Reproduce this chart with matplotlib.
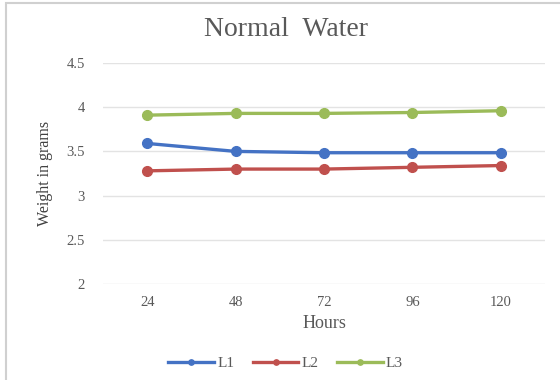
import matplotlib
matplotlib.use("Agg")
import matplotlib.pyplot as plt
from matplotlib.patches import Rectangle

hours = ["24", "48", "72", "96", "120"]
l1 = [3.59, 3.50, 3.485, 3.485, 3.485]
l2 = [3.28, 3.30, 3.30, 3.32, 3.34]
l3 = [3.91, 3.93, 3.93, 3.94, 3.96]
series_names = ["L1", "L2", "L3"]
yticks = [2, 2.5, 3, 3.5, 4, 4.5]
ytick_labels = ["2", "2.5", "3", "3.5", "4", "4.5"]

colors = ["#4472C4", "#C0504D", "#9BBB59"]
plt.rcParams['font.family'] = ['Liberation Serif', 'DejaVu Serif']

fig = plt.figure(figsize=(5.6, 3.8), dpi=100)
fig.patches.append(Rectangle((6/560, -0.1), 1.2, (1 - 3/380) + 0.1, transform=fig.transFigure,
                             fill=False, edgecolor="#D0D0D0", linewidth=1.5))
ax = fig.add_axes([103/560, 1 - 284/380, 442/560, (284 - 63)/380])

x = list(range(len(hours)))
for vals, name, c in zip([l1, l2, l3], series_names, colors):
    ax.plot(x, vals, color=c, linewidth=2.4, marker="o", markersize=7, label=name)

ax.set_xlim(-0.5, len(hours) - 0.5)
ax.set_ylim(2, 4.5)
ax.set_xticks(x)
ax.set_xticklabels(hours)
ax.set_yticks(yticks)
ax.set_yticklabels(ytick_labels)
ax.tick_params(axis="both", length=0, labelsize=10.5, colors="#595959")
ax.tick_params(axis="y", pad=13)
ax.tick_params(axis="x", pad=9)
ax.grid(axis="y", color="#E3E3E3", linewidth=1)
ax.set_axisbelow(True)
for s in ax.spines.values():
    s.set_visible(False)

ax.set_xlabel("Hours", fontsize=13, color="#595959", labelpad=4)
ax.set_ylabel("Weight in grams", fontsize=11.5, color="#404040", labelpad=10)
fig.text(0.51, 1 - 29/380, "Normal  Water", ha="center", va="center", fontsize=20, color="#595959")

handles, labels = ax.get_legend_handles_labels()
leg = fig.legend(handles, labels, loc="center", bbox_to_anchor=(0.51, 1 - 363/380), ncol=3,
                 frameon=False, fontsize=11, handlelength=3.0, markerscale=0.55,
                 columnspacing=1.2, handletextpad=0.2)
for t in leg.get_texts():
    t.set_color("#595959")

fig.savefig("out.png", dpi=100)
